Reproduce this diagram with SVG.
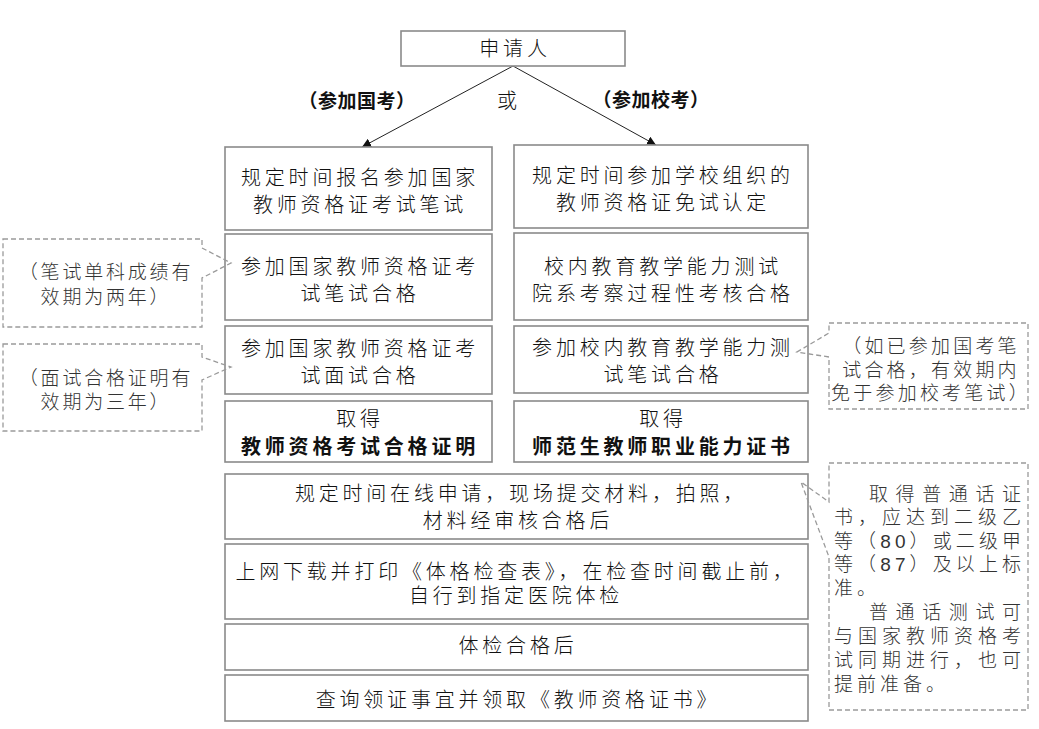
<svg xmlns="http://www.w3.org/2000/svg" width="1039" height="729" viewBox="0 0 1039 729">
<defs>
<style>
.box{fill:#fff;stroke:#8a8a8a;stroke-width:1.6}
.ann{fill:none;stroke:#9a9a9a;stroke-width:1.3;stroke-dasharray:5,3}
.t{font-family:"Liberation Sans","Noto Sans CJK SC",sans-serif;font-size:20px;font-weight:300;letter-spacing:3.8px;fill:#111;text-anchor:middle}
.b{font-weight:700;letter-spacing:3.8px}
.lbl{font-family:"Liberation Sans","Noto Sans CJK SC",sans-serif;font-size:19px;font-weight:700;letter-spacing:0.5px;fill:#111;text-anchor:middle}
.a{font-family:"Liberation Sans","Noto Sans CJK SC",sans-serif;font-size:19px;font-weight:300;fill:#333}
.ac{text-anchor:middle;letter-spacing:2.8px}
.ar{text-anchor:middle;letter-spacing:3.2px}
.line{stroke:#222;stroke-width:1;fill:none}
</style>
<marker id="arr" viewBox="0 0 10 10" refX="10" refY="5" markerWidth="9" markerHeight="9" markerUnits="userSpaceOnUse" orient="auto">
<path d="M0,0 L10,5 L0,10 Z" fill="#111"/>
</marker>
</defs>
<rect width="1039" height="729" fill="#fff"/>

<g id="connectors">
<line class="line" x1="513" y1="66" x2="362" y2="147" marker-end="url(#arr)"/>
<line class="line" x1="513" y1="66" x2="656" y2="145" marker-end="url(#arr)"/>
</g>

<g id="labels">
<text class="lbl" x="357" y="108">（参加国考）</text>
<text class="t" x="509" y="108">或</text>
<text class="lbl" x="651" y="107">（参加校考）</text>
</g>

<g id="applicant">
<rect class="box" x="401" y="31" width="224" height="35"/>
<text class="t" x="515" y="56">申请人</text>
</g>

<g id="left1">
<rect class="box" x="225" y="147" width="267" height="83"/>
<text class="t" x="360" y="185">规定时间报名参加国家</text>
<text class="t" x="360" y="212">教师资格证考试笔试</text>
</g>
<g id="left2">
<rect class="box" x="225" y="234" width="267" height="86"/>
<text class="t" x="360" y="274">参加国家教师资格证考</text>
<text class="t" x="360" y="301">试笔试合格</text>
</g>
<g id="left3">
<rect class="box" x="225" y="326" width="267" height="68"/>
<text class="t" x="360" y="356">参加国家教师资格证考</text>
<text class="t" x="360" y="383">试面试合格</text>
</g>
<g id="left4">
<rect class="box" x="225" y="401" width="267" height="61"/>
<text class="t" x="360" y="426">取得</text>
<text class="t b" x="360" y="454">教师资格考试合格证明</text>
</g>

<g id="right1">
<rect class="box" x="514" y="145" width="294" height="83"/>
<text class="t" x="663" y="183">规定时间参加学校组织的</text>
<text class="t" x="663" y="210">教师资格证免试认定</text>
</g>
<g id="right2">
<rect class="box" x="514" y="233" width="294" height="87"/>
<text class="t" x="663" y="274">校内教育教学能力测试</text>
<text class="t" x="663" y="301">院系考察过程性考核合格</text>
</g>
<g id="right3">
<rect class="box" x="514" y="326" width="294" height="67"/>
<text class="t" x="663" y="355">参加校内教育教学能力测</text>
<text class="t" x="663" y="382">试笔试合格</text>
</g>
<g id="right4">
<rect class="box" x="514" y="401" width="294" height="61"/>
<text class="t" x="663" y="426">取得</text>
<text class="t b" x="663" y="454">师范生教师职业能力证书</text>
</g>

<g id="step1">
<rect class="box" x="225" y="474" width="583" height="65"/>
<text class="t" x="521" y="501">规定时间在线申请，现场提交材料，拍照，</text>
<text class="t" x="518" y="528">材料经审核合格后</text>
</g>
<g id="step2">
<rect class="box" x="225" y="544" width="583" height="75"/>
<text class="t" x="516" y="579">上网下载并打印《体格检查表》，在检查时间截止前，</text>
<text class="t" x="516" y="603">自行到指定医院体检</text>
</g>
<g id="step3">
<rect class="box" x="225" y="624" width="583" height="46"/>
<text class="t" x="518" y="653">体检合格后</text>
</g>
<g id="step4">
<rect class="box" x="225" y="675" width="583" height="46"/>
<text class="t" x="518" y="707">查询领证事宜并领取《教师资格证书》</text>
</g>

<g id="note-written">
<path class="ann" d="M3 239 H202 V248 L231 263 L202 278 V327 H3 Z"/>
<text class="a ac" x="106" y="279">（笔试单科成绩有</text>
<text class="a ac" x="106" y="304">效期为两年）</text>
</g>
<g id="note-interview">
<path class="ann" d="M3 344 H202 V357 L231 367 L202 380 V431 H3 Z"/>
<text class="a ac" x="106" y="385">（面试合格证明有</text>
<text class="a ac" x="106" y="409">效期为三年）</text>
</g>
<g id="note-school">
<path class="ann" d="M829 323 H1028 V409 H829 V357 L797 352 L829 333 Z"/>
<text class="a ar" x="931" y="353">（如已参加国考笔</text>
<text class="a ar" x="931" y="377">试合格，有效期内</text>
<text class="a ar" x="931" y="400">免于参加校考笔试）</text>
</g>
<g id="note-mandarin">
<path class="ann" d="M829 463 H1028 V710 H829 V557 L801 482 L829 502 Z"/>
<text class="a" x="869" y="501" textLength="152" lengthAdjust="spacing">取得普通话证</text>
<text class="a" x="834" y="524" textLength="187" lengthAdjust="spacing">书，应达到二级乙</text>
<text class="a" x="834" y="548" textLength="187" lengthAdjust="spacing">等（80）或二级甲</text>
<text class="a" x="834" y="571" textLength="187" lengthAdjust="spacing">等（87）及以上标</text>
<text class="a" x="834" y="595" letter-spacing="4">准。</text>
<text class="a" x="869" y="619" textLength="152" lengthAdjust="spacing">普通话测试可</text>
<text class="a" x="834" y="643" textLength="187" lengthAdjust="spacing">与国家教师资格考</text>
<text class="a" x="834" y="667" textLength="187" lengthAdjust="spacing">试同期进行，也可</text>
<text class="a" x="834" y="691" letter-spacing="4">提前准备。</text>
</g>
</svg>
